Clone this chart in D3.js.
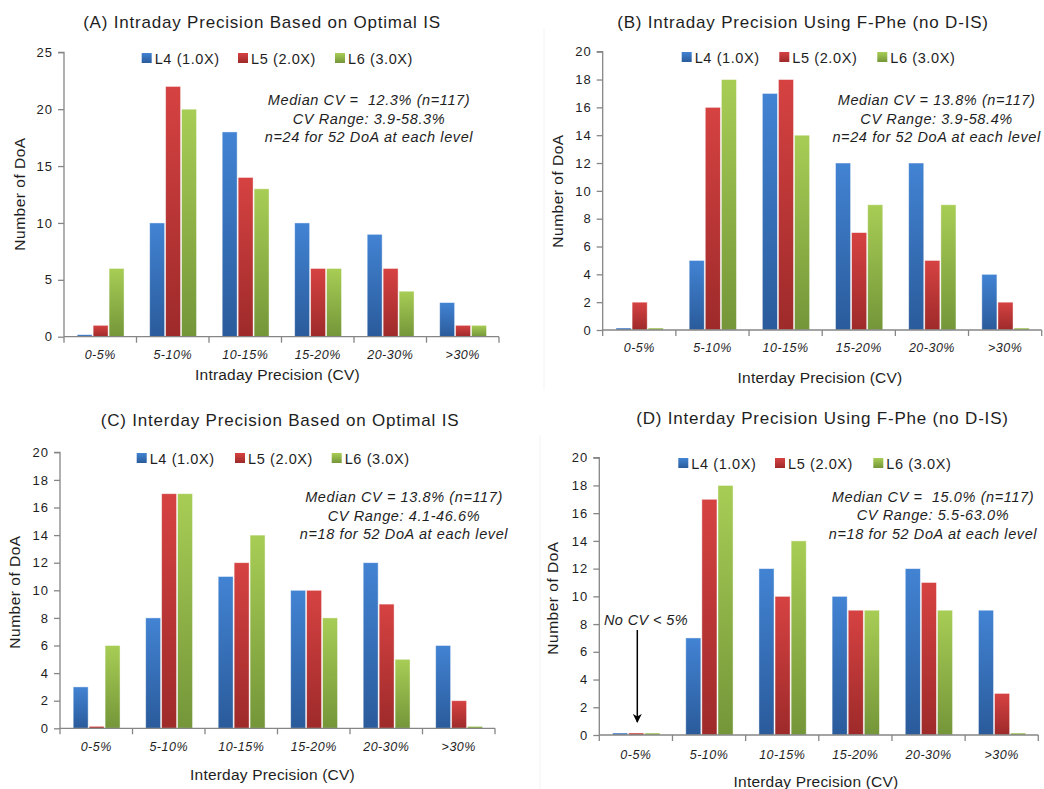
<!DOCTYPE html>
<html>
<head>
<meta charset="utf-8">
<script src="https://cdn.jsdelivr.net/npm/d3@7"></script>
<style>
  html, body { margin: 0; padding: 0; background: #fff; }
  svg { display: block; font-family: "Liberation Sans", Arial, sans-serif; }
</style>
</head>
<body>
<svg id="chart" width="1044" height="789"></svg>
<script>
// CV bins and concentration levels
const categories = ["0-5%", "5-10%", "10-15%", "15-20%", "20-30%", ">30%"];
const seriesNames = ["L4 (1.0X)", "L5 (2.0X)", "L6 (3.0X)"];

// (A) Intraday precision, optimal IS
const intradayOptL4 = [0, 10, 18, 10, 9, 3];
const intradayOptL5 = [1, 22, 14, 6, 6, 1];
const intradayOptL6 = [6, 20, 13, 6, 4, 1];

// (B) Intraday precision, F-Phe
const intradayFpheL4 = [0, 5, 17, 12, 12, 4];
const intradayFpheL5 = [2, 16, 18, 7, 5, 2];
const intradayFpheL6 = [0, 18, 14, 9, 9, 0];

// (C) Interday precision, optimal IS
const interdayOptL4 = [3, 8, 11, 10, 12, 6];
const interdayOptL5 = [0, 17, 12, 10, 9, 2];
const interdayOptL6 = [6, 17, 14, 8, 5, 0];

// (D) Interday precision, F-Phe
const interdayFpheL4 = [0, 7, 12, 10, 12, 9];
const interdayFpheL5 = [0, 17, 10, 9, 11, 3];
const interdayFpheL6 = [0, 18, 14, 9, 9, 0];

const panelTitles = [
  "(A) Intraday Precision Based on Optimal IS",
  "(B) Intraday Precision Using F-Phe (no D-IS)",
  "(C) Interday Precision Based on Optimal IS",
  "(D) Interday Precision Using F-Phe (no D-IS)"
];
const xAxisTitles = ["Intraday Precision (CV)", "Interday Precision (CV)", "Interday Precision (CV)", "Interday Precision (CV)"];
const yAxisTitle = "Number of DoA";
const yMaxes = [25, 20, 20, 20];
const yTickSteps = [5, 2, 2, 2];
const notes = [
  ["Median CV =  12.3% (n=117)", "CV Range: 3.9-58.3%", "n=24 for 52 DoA at each level"],
  ["Median CV = 13.8% (n=117)", "CV Range: 3.9-58.4%", "n=24 for 52 DoA at each level"],
  ["Median CV = 13.8% (n=117)", "CV Range: 4.1-46.6%", "n=18 for 52 DoA at each level"],
  ["Median CV =  15.0% (n=117)", "CV Range: 5.5-63.0%", "n=18 for 52 DoA at each level"]
];
const calloutText = "No CV < 5%";

const panelValues = [
  [intradayOptL4, intradayOptL5, intradayOptL6],
  [intradayFpheL4, intradayFpheL5, intradayFpheL6],
  [interdayOptL4, interdayOptL5, interdayOptL6],
  [interdayFpheL4, interdayFpheL5, interdayFpheL6]
];

// Page geometry of each panel
const layouts = [
  { x0: 64,    x1: 499,    yTop: 52.3,  yBase: 336.7, titleX: 262,   titleY: 28,  legX: [141.7, 238, 335],   legY: 58,
    noteX: 369,   noteY: [100, 119, 137],  xLabY: 359, xTitleX: 277.5, xTitleY: 380, yTitleX: 20,  yTitleY: 194 },
  { x0: 602.7, x1: 1041.7, yTop: 51.7,  yBase: 330,   titleX: 803,   titleY: 28,  legX: [681.7, 779.3, 877.3], legY: 57,
    noteX: 936.6, noteY: [100, 119.3, 137.3], xLabY: 352, xTitleX: 820, xTitleY: 383, yTitleX: 558, yTitleY: 191 },
  { x0: 60,    x1: 495,    yTop: 452.3, yBase: 728.3, titleX: 280,   titleY: 426, legX: [136.7, 235, 331.7], legY: 458,
    noteX: 404,   noteY: [496.7, 516, 534], xLabY: 751, xTitleX: 272.5, xTitleY: 780, yTitleX: 15,  yTitleY: 592 },
  { x0: 599.3, x1: 1038.3, yTop: 457.7, yBase: 735,   titleX: 822.5, titleY: 424, legX: [678.3, 775, 873.3], legY: 463,
    noteX: 933,   noteY: [496.7, 515, 534], xLabY: 759, xTitleX: 816, xTitleY: 787, yTitleX: 553, yTitleY: 598 }
];

const svg = d3.select("#chart");
const defs = svg.append("defs");

// Excel-style vertical gradients for the three series
const gradStops = [
  ["#4283d3", "#2a5b9b"],
  ["#d64242", "#9e2a2a"],
  ["#a8cd55", "#749639"]
];
gradStops.forEach((s, i) => {
  const g = defs.append("linearGradient").attr("id", "grad" + i)
    .attr("x1", 0).attr("y1", 0).attr("x2", 0).attr("y2", 1);
  g.append("stop").attr("offset", "0%").attr("stop-color", s[0]);
  g.append("stop").attr("offset", "100%").attr("stop-color", s[1]);
});

defs.append("marker").attr("id", "arrowHead")
  .attr("viewBox", "0 0 10 10").attr("refX", 9).attr("refY", 5)
  .attr("markerWidth", 6).attr("markerHeight", 6).attr("orient", "auto")
  .attr("markerUnits", "strokeWidth")
  .append("path").attr("d", "M0,0 L10,5 L0,10 L3,5 Z").attr("fill", "#000");

// faint frame edges of the right-hand panels
svg.append("line").attr("x1", 544).attr("x2", 544).attr("y1", 28).attr("y2", 390)
  .attr("stroke", "#f4f4f4").attr("stroke-width", 1);
svg.append("line").attr("x1", 540).attr("x2", 540).attr("y1", 435).attr("y2", 789)
  .attr("stroke", "#f4f4f4").attr("stroke-width", 1);

const axisColor = "#868686";
const textColor = "#1e1e1e";

layouts.forEach((L, p) => {
  const g = svg.append("g");
  const values = panelValues[p];

  const x = d3.scaleBand().domain(categories).range([L.x0, L.x1]).padding(0);
  const bw = x.bandwidth();
  const xs = d3.scaleBand().domain(d3.range(seriesNames.length))
    .range([bw * 0.175, bw * 0.835]).padding(0);
  const y = d3.scaleLinear().domain([0, yMaxes[p]]).range([L.yBase, L.yTop]);

  // bars
  values.forEach((arr, s) => {
    g.selectAll(null).data(arr).enter().append("rect")
      .attr("x", (d, i) => x(categories[i]) + xs(s) + 0.5)
      .attr("width", xs.bandwidth() - 1)
      .attr("y", d => Math.min(y(d), L.yBase - 2))
      .attr("height", d => Math.max(L.yBase - y(d), 2))
      .attr("fill", "url(#grad" + s + ")")
      .attr("stroke", "rgba(255,255,255,0.55)")
      .attr("stroke-width", 0.8);
  });

  // y axis
  const yTicks = d3.range(0, yMaxes[p] + 0.001, yTickSteps[p]);
  const yAxis = d3.axisLeft(y).tickValues(yTicks).tickSize(6).tickPadding(5).tickFormat(d3.format("d"));
  const ya = g.append("g").attr("transform", `translate(${L.x0},0)`).call(yAxis);
  ya.select(".domain").attr("stroke", axisColor).attr("stroke-width", 1.3).attr("d", `M-6,${L.yTop}H0V${L.yBase}`);
  ya.selectAll(".tick line").attr("stroke", axisColor).attr("stroke-width", 1.3);
  ya.selectAll(".tick text").attr("fill", textColor).attr("font-size", 13)
    .attr("letter-spacing", "1px").attr("font-family", "Liberation Sans, Arial, sans-serif");

  // x axis: ticks at band boundaries
  const xa = g.append("g");
  xa.append("line").attr("x1", L.x0).attr("x2", L.x1).attr("y1", L.yBase).attr("y2", L.yBase)
    .attr("stroke", axisColor).attr("stroke-width", 1.3);
  const bounds = categories.map(c => x(c)).concat([L.x1]);
  xa.selectAll(null).data(bounds).enter().append("line")
    .attr("x1", d => d).attr("x2", d => d).attr("y1", L.yBase).attr("y2", L.yBase + 6)
    .attr("stroke", axisColor).attr("stroke-width", 1.3);
  xa.selectAll(null).data(categories).enter().append("text")
    .attr("x", d => x(d) + bw / 2).attr("y", L.xLabY)
    .attr("text-anchor", "middle").attr("font-style", "italic").attr("font-size", 12.5)
    .attr("letter-spacing", "0.5px").attr("fill", textColor).text(d => d);

  // titles
  g.append("text").attr("x", L.titleX).attr("y", L.titleY).attr("text-anchor", "middle")
    .attr("font-size", 17).attr("letter-spacing", "0.8px").attr("fill", textColor).text(panelTitles[p]);
  g.append("text").attr("x", L.xTitleX).attr("y", L.xTitleY).attr("text-anchor", "middle")
    .attr("font-size", 15.5).attr("letter-spacing", "0.2px").attr("fill", textColor).text(xAxisTitles[p]);
  g.append("text").attr("transform", `translate(${L.yTitleX + 5},${L.yTitleY}) rotate(-90)`)
    .attr("text-anchor", "middle").attr("font-size", 15.5).attr("letter-spacing", "0.5px")
    .attr("fill", textColor).text(yAxisTitle);

  // legend
  seriesNames.forEach((name, s) => {
    g.append("rect").attr("x", L.legX[s]).attr("y", L.legY - 5).attr("width", 10).attr("height", 10)
      .attr("fill", "url(#grad" + s + ")");
    g.append("text").attr("x", L.legX[s] + 13).attr("y", L.legY + 5.5)
      .attr("font-size", 14.5).attr("letter-spacing", "0.6px").attr("fill", textColor).text(name);
  });

  // summary note
  notes[p].forEach((line, k) => {
    g.append("text").attr("x", L.noteX).attr("y", L.noteY[k] + 5).attr("text-anchor", "middle")
      .attr("font-style", "italic").attr("font-size", 14.5).attr("letter-spacing", "0.6px")
      .style("white-space", "pre").attr("fill", textColor).text(line);
  });
});

// callout in panel D for the empty lowest bin
svg.append("text").attr("x", 646).attr("y", 625).attr("text-anchor", "middle")
  .attr("font-style", "italic").attr("font-size", 14.5).attr("letter-spacing", "0.4px")
  .attr("fill", textColor).text(calloutText);
svg.append("line").attr("x1", 637.3).attr("x2", 637.3).attr("y1", 630).attr("y2", 722)
  .attr("stroke", "#000").attr("stroke-width", 1.5).attr("marker-end", "url(#arrowHead)");
</script>
</body>
</html>
